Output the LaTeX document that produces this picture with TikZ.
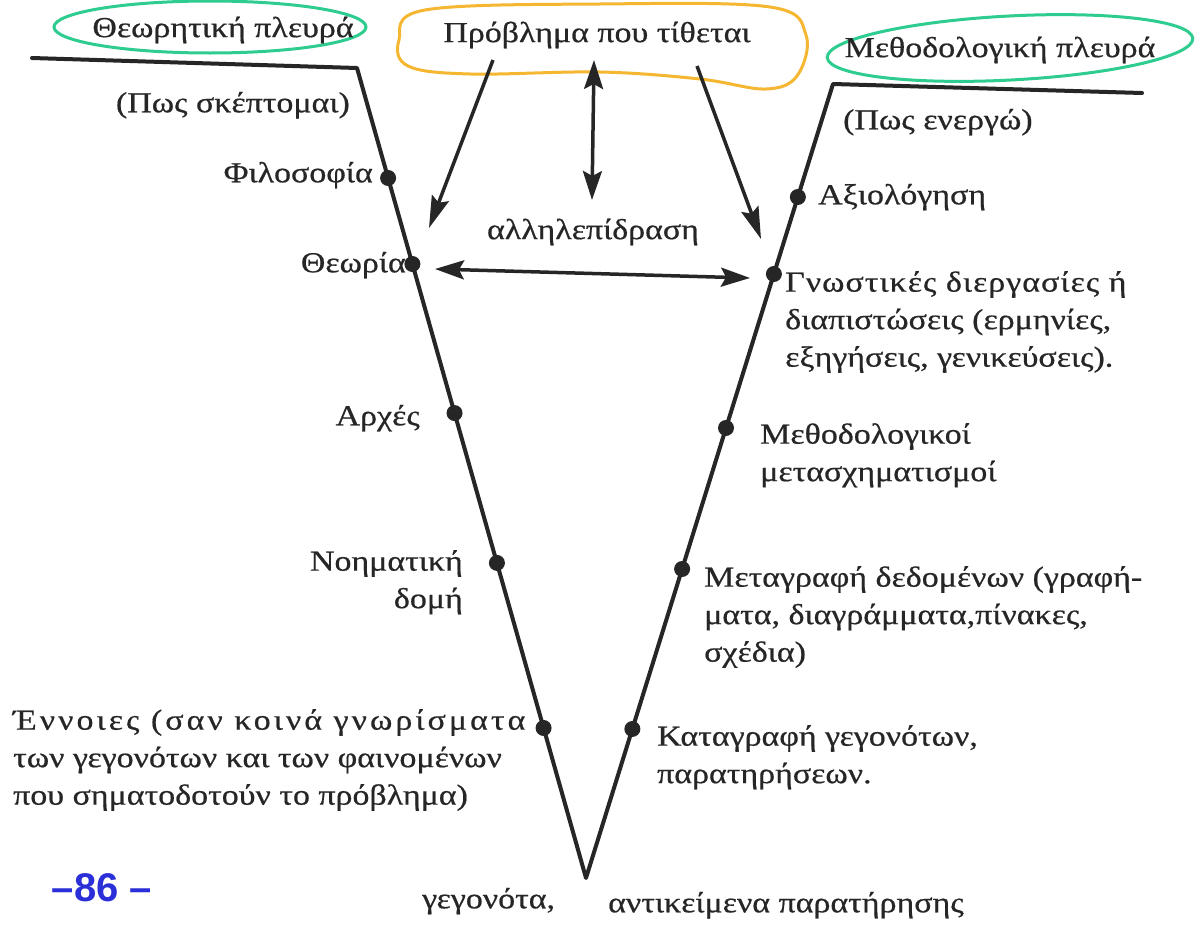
\documentclass[tikz,border=0pt]{standalone}
\usepackage{fontspec}
\setmainfont[FakeStretch=1.17,FakeBold=0.6]{Liberation Serif}
\setsansfont{Liberation Sans}
\usetikzlibrary{arrows.meta,calc}
\definecolor{ink}{HTML}{262626}
\definecolor{hlgreen}{HTML}{2ECC8F}
\definecolor{hlorange}{HTML}{F5B731}
\definecolor{penblue}{HTML}{2A2FD8}
\newcommand{\wide}[2]{{\addfontfeature{LetterSpace=#1}#2}}
\tikzset{
  vline/.style={draw=ink, line width=4pt, line join=round, line cap=round},
  dotmark/.style={circle, fill=ink, inner sep=0pt, minimum size=16pt},
  lbl/.style={inner sep=0pt, text=ink, font=\fontsize{29}{37.5}\selectfont},
  mlbl/.style={lbl, align=left},
  rlbl/.style={lbl, align=right},
  arr/.style={draw=ink, line width=3.5pt, -{Stealth[length=32pt,width=18pt,inset=5pt]}},
  darr/.style={draw=ink, line width=3.5pt, {Stealth[length=29pt,width=19pt,inset=5pt]}-{Stealth[length=29pt,width=19pt,inset=5pt]}},
  hl/.style={line width=3pt}
}
\begin{document}
\begin{tikzpicture}[x=1pt,y=-1pt]
\useasboundingbox[fill=white] (0,0) rectangle (1200,937);
% highlight loops
\draw[hl, draw=hlgreen] (210,27) ellipse [x radius=156, y radius=26];
\draw[hl, draw=hlgreen, rotate around={3:(1010,48)}] (1010,48) ellipse [x radius=183, y radius=32];
\draw[hl, draw=hlorange] plot[smooth cycle, tension=0.6] coordinates {
  (399,40) (425,10) (600,4) (770,7) (806,35) (797,76) (765,89) (700,79) (600,72) (470,74) (408,66)};
% V shape
\coordinate (lt0) at (32,58);
\coordinate (lt) at (357,68);
\coordinate (bot) at (586,878);
\coordinate (rt) at (833,84);
\coordinate (rt0) at (1142,93);
\draw[vline] (lt0) -- (lt) -- (bot) -- (rt) -- (rt0);
% dots on left arm
\node[dotmark] (dFil) at ($(lt)!0.1358!(bot)$) {};
\node[dotmark] (dThe) at ($(lt)!0.242!(bot)$) {};
\node[dotmark] (dArx) at ($(lt)!0.426!(bot)$) {};
\node[dotmark] (dNoi) at ($(lt)!0.611!(bot)$) {};
\node[dotmark] (dEnn) at ($(lt)!0.8148!(bot)$) {};
% dots on right arm
\node[dotmark] (dAxi) at ($(rt)!0.1423!(bot)$) {};
\node[dotmark] (dGno) at ($(rt)!0.2393!(bot)$) {};
\node[dotmark] (dMet) at ($(rt)!0.4332!(bot)$) {};
\node[dotmark] (dMtg) at ($(rt)!0.6108!(bot)$) {};
\node[dotmark] (dKat) at ($(rt)!0.8123!(bot)$) {};
% headings
\node[lbl] (theor) at (223,30) {Θεωρητική πλευρά};
\node[lbl] (probl) at (597,35) {Πρόβλημα που τίθεται};
\node[lbl] (meth) at (1000,50) {Μεθοδολογική πλευρά};
% left labels
\node[lbl, anchor=mid east] (think) at (350,110) {(Πως σκέπτομαι)};
\node[lbl, anchor=mid east] (lFil) at (373,180) {Φιλοσοφία};
\node[lbl, anchor=mid east] (lThe) at (406,270) {Θεωρία};
\node[lbl, anchor=mid east] (lArx) at (420,423) {Αρχές};
\node[rlbl, anchor=north east] (lNoi) at (463,550) {Νοηματική\\δομή};
\node[mlbl, anchor=north west] (lEnn) at (13,709) {\wide{10.5}{Έννοιες (σαν κοινά γνωρίσματα}\\των γεγονότων και των φαινομένων\\που σηματοδοτούν το πρόβλημα)};
% right labels
\node[lbl, anchor=mid west] (act) at (843,127) {(Πως ενεργώ)};
\node[lbl, anchor=mid west] (lAxi) at (818,202) {Αξιολόγηση};
\node[mlbl, anchor=north west] (lGno) at (785,271) {\wide{3.5}{Γνωστικές διεργασίες ή}\\διαπιστώσεις (ερμηνίες,\\εξηγήσεις, γενικεύσεις).};
\node[mlbl, anchor=north west] (lMet) at (760,423) {Μεθοδολογικοί\\μετασχηματισμοί};
\node[mlbl, anchor=north west] (lMtg) at (704,566) {Μεταγραφή δεδομένων (γραφή-\\ματα, διαγράμματα,πίνακες,\\σχέδια)};
\node[mlbl, anchor=north west] (lKat) at (657,725) {Καταγραφή γεγονότων,\\παρατηρήσεων.};
% bottom
\node[lbl, anchor=mid west] (facts) at (422,906) {γεγονότα,};
\node[lbl, anchor=mid west] (objs) at (608,910) {αντικείμενα παρατήρησης};
% interaction
\node[lbl] (inter) at (593,232) {αλληλεπίδραση};
\coordinate (aLs) at (493,60);
\coordinate (aLe) at (429,228);
\coordinate (aCs) at (594,60);
\coordinate (aCe) at (592,200);
\coordinate (aRs) at (697,66);
\coordinate (aRe) at (761,239);
\coordinate (hL) at (435,269);
\coordinate (hR) at (750,278);
\draw[arr] (aLs) -- (aLe);
\draw[darr] (aCs) -- (aCe);
\draw[arr] (aRs) -- (aRe);
\draw[darr] (hL) -- (hR);
% page number
\node[inner sep=0pt, text=penblue, font=\sffamily\bfseries\fontsize{40}{42}\selectfont] (page) at (102,888) {–86 –};
\end{tikzpicture}
\end{document}
